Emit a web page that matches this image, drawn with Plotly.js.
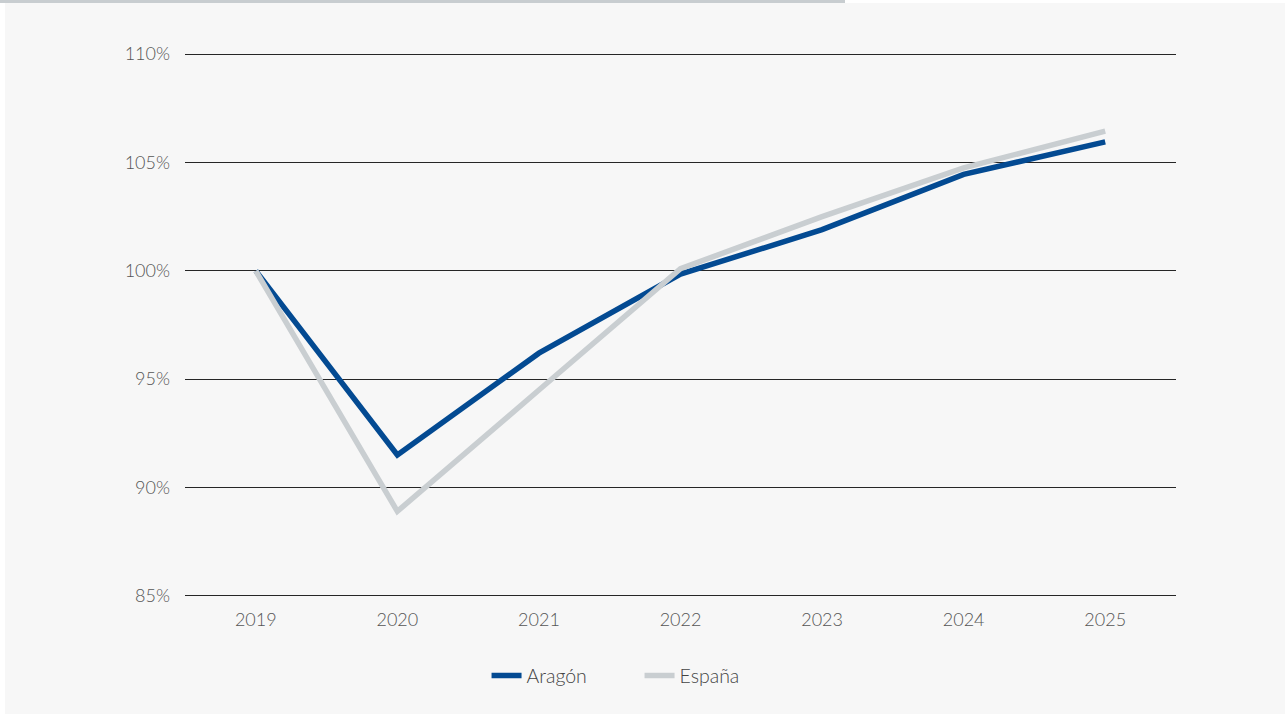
<!DOCTYPE html>
<html>
<head>
<meta charset="utf-8">
<script src="https://cdn.plot.ly/plotly-3.0.1.min.js"></script>
<style>
html,body{margin:0;padding:0;background:#ffffff;width:1285px;height:716px;overflow:hidden;}
#frame{position:absolute;left:5px;top:3px;width:1280px;height:711px;background:#f7f7f7;}
#bar{position:absolute;left:0;top:0;width:845px;height:3px;background:#c8cdd0;}
#chart{position:absolute;left:0;top:0;width:1285px;height:716px;}
</style>
</head>
<body>
<div id="frame"></div>
<div id="bar"></div>
<div id="chart"></div>
<script>
const years = ['2019','2020','2021','2022','2023','2024','2025'];
const aragon = [100, 91.5, 96.2, 99.85, 101.9, 104.45, 105.95];
const espana = [100, 88.9, 94.5, 100.1, 102.5, 104.75, 106.45];
const yTickVals = [85, 90, 95, 100, 105, 110];
const yTickText = ['85%', '90%', '95%', '100%', '105%', '110%'];

const font = {family: 'Lato, "Open Sans", sans-serif', size: 18, color: '#555555', weight: 300};
const legendFont = {family: 'Lato, "Open Sans", sans-serif', size: 19.5, color: '#444444', weight: 300};

const traces = [
  {x: years, y: aragon, name: 'Aragón', type: 'scatter', mode: 'lines',
   line: {color: '#034a92', width: 5.5}, hoverinfo: 'skip'},
  {x: years, y: espana, name: 'España', type: 'scatter', mode: 'lines',
   line: {color: '#c9ced1', width: 5.5}, hoverinfo: 'skip'}
];

const layout = {
  width: 1285, height: 716,
  paper_bgcolor: 'rgba(0,0,0,0)', plot_bgcolor: 'rgba(0,0,0,0)',
  margin: {l: 185, r: 109, t: 52, b: 118},
  font: font,
  showlegend: true,
  legend: {orientation: 'h', xref: 'container', yref: 'container', x: 0.4977, y: 0.056,
           xanchor: 'center', yanchor: 'middle', font: legendFont, entrywidth: 108,
           traceorder: 'normal'},
  xaxis: {type: 'category', range: [-0.5, 6.5], showgrid: false, zeroline: false, showline: false,
          ticks: '', tickfont: font, ticklabelstandoff: 9, fixedrange: true},
  yaxis: {range: [84.9, 110.1], tickvals: yTickVals, ticktext: yTickText, showgrid: true,
          gridcolor: '#262626', gridwidth: 1, zeroline: false, showline: false, ticks: '',
          tickfont: font, ticklabelstandoff: 14, fixedrange: true}
};

Plotly.newPlot('chart', traces, layout, {displayModeBar: false, staticPlot: true});
</script>
</body>
</html>
